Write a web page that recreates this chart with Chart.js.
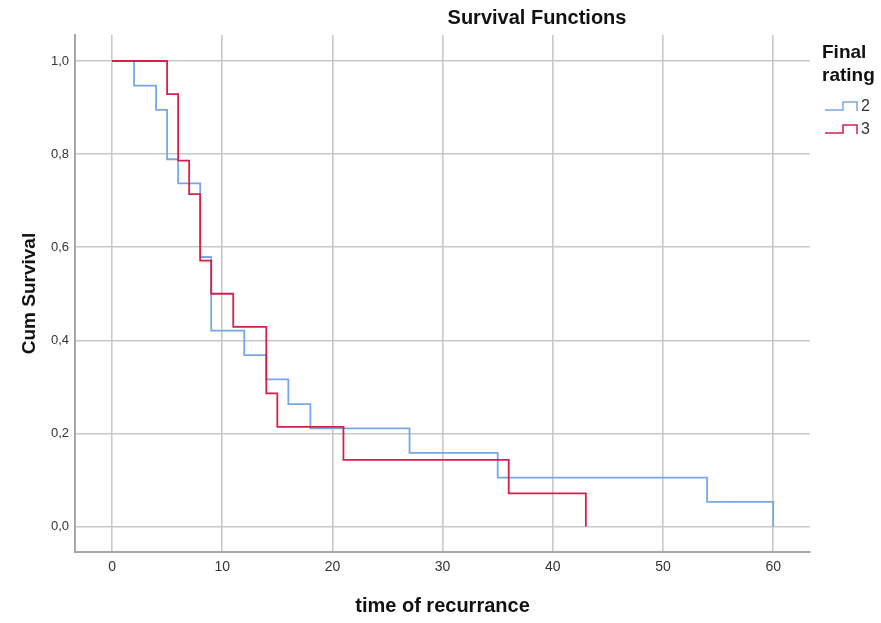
<!DOCTYPE html>
<html>
<head>
<meta charset="utf-8">
<title>Survival Functions</title>
<script src="https://cdn.jsdelivr.net/npm/chart.js@4.4.0/dist/chart.umd.min.js"></script>
<style>
    html, body { margin: 0; padding: 0; background: #fff; }
    #wrap { width: 881px; height: 623px; position: relative; }
</style>
</head>
<body>
<div id="wrap"><canvas id="survivalChart"></canvas></div>
<script>
// Kaplan-Meier estimates, one curve per final rating
const groupLabels = ["2", "3"];
const timesRating2 = [0, 2, 4, 5, 6, 8, 9, 12, 14, 16, 18, 27, 35, 54, 60];
const survRating2 = [1, 0.947, 0.895, 0.789, 0.737, 0.579, 0.421, 0.368, 0.316, 0.263, 0.211, 0.158, 0.105, 0.053, 0];
const timesRating3 = [0, 5, 6, 7, 8, 9, 11, 14, 15, 21, 36, 43];
const survRating3 = [1, 0.929, 0.786, 0.714, 0.571, 0.5, 0.429, 0.286, 0.214, 0.143, 0.071, 0];
const xTicks = [0, 10, 20, 30, 40, 50, 60];
const yTicks = [0, 0.2, 0.4, 0.6, 0.8, 1.0];
const lineColors = ["#76a8e8", "#d61f4b"];

const FONT = "'Liberation Sans', Arial, sans-serif";

function toPoints(times, surv) {
    return times.map((t, i) => ({ x: t, y: surv[i] }));
}

// chart heading and the "Final rating" legend with little step icons
const headerAndLegend = {
    id: "headerAndLegend",
    afterDraw(chart) {
        const ctx = chart.ctx;
        ctx.save();
        ctx.fillStyle = "#111";
        ctx.font = "bold 20px " + FONT;
        ctx.textBaseline = "middle";
        ctx.textAlign = "center";
        ctx.fillText("Survival Functions", 537, 18);

        ctx.font = "bold 19px " + FONT;
        ctx.textAlign = "left";
        ctx.fillText("Final", 822, 53);
        ctx.fillText("rating", 822, 76);

        chart.data.datasets.forEach((ds, i) => {
            const y = 106 + i * 23;
            ctx.strokeStyle = ds.borderColor;
            ctx.lineWidth = 1.5;
            ctx.beginPath();
            ctx.moveTo(825, y + 4);
            ctx.lineTo(843, y + 4);
            ctx.lineTo(843, y - 4);
            ctx.lineTo(857, y - 4);
            ctx.lineTo(857, y + 5);
            ctx.stroke();
            ctx.fillStyle = "#333";
            ctx.font = "16px " + FONT;
            ctx.fillText(ds.label, 861, y + 1);
        });
        ctx.restore();
    },
};

const ctx = document.getElementById("survivalChart").getContext("2d");
const survivalChart = new Chart(ctx, {
    type: "line",
    data: {
        datasets: [
            {
                label: groupLabels[0],
                data: toPoints(timesRating2, survRating2),
                borderColor: lineColors[0],
                order: 1,
            },
            {
                label: groupLabels[1],
                data: toPoints(timesRating3, survRating3),
                borderColor: lineColors[1],
                order: 0,
            },
        ],
    },
    options: {
        responsive: true,
        maintainAspectRatio: false,
        animation: false,
        layout: {
            padding: { top: 35, right: 71, left: 0, bottom: 0 },
        },
        elements: {
            line: { stepped: true, borderWidth: 1.8, tension: 0, fill: false },
            point: { radius: 0, hoverRadius: 0 },
        },
        plugins: {
            legend: { display: false },
            title: { display: false },
            tooltip: { enabled: false },
        },
        scales: {
            x: {
                type: "linear",
                min: -3.36,
                max: 63.34,
                afterBuildTicks: (scale) => {
                    scale.ticks = xTicks.map((v) => ({ value: v }));
                },
                afterFit: (scale) => {
                    scale.height = 71;
                },
                grid: {
                    color: "#c8c8c8",
                    lineWidth: 1.6,
                    drawTicks: false,
                },
                border: { color: "#a8a8a8", width: 2 },
                ticks: {
                    padding: 7,
                    color: "#333",
                    font: { family: FONT, size: 14 },
                    maxRotation: 0,
                },
                title: {
                    display: true,
                    text: "time of recurrance",
                    color: "#111",
                    font: { family: FONT, size: 20, weight: "bold" },
                    padding: { top: 0, bottom: 5 },
                },
            },
            y: {
                type: "linear",
                min: -0.0548,
                max: 1.0559,
                afterBuildTicks: (scale) => {
                    scale.ticks = yTicks.map((v) => ({ value: v }));
                },
                afterFit: (scale) => {
                    scale.width = 75;
                },
                grid: {
                    color: "#c8c8c8",
                    lineWidth: 1.6,
                    drawTicks: false,
                },
                border: { color: "#a8a8a8", width: 2 },
                ticks: {
                    padding: 6,
                    color: "#333",
                    font: { family: FONT, size: 13 },
                    callback: (v) => v.toFixed(1).replace(".", ","),
                },
                title: {
                    display: true,
                    text: "Cum Survival",
                    color: "#111",
                    font: { family: FONT, size: 19, weight: "bold" },
                    padding: { top: 18, bottom: 0 },
                },
            },
        },
    },
    plugins: [headerAndLegend],
});
</script>
</body>
</html>
